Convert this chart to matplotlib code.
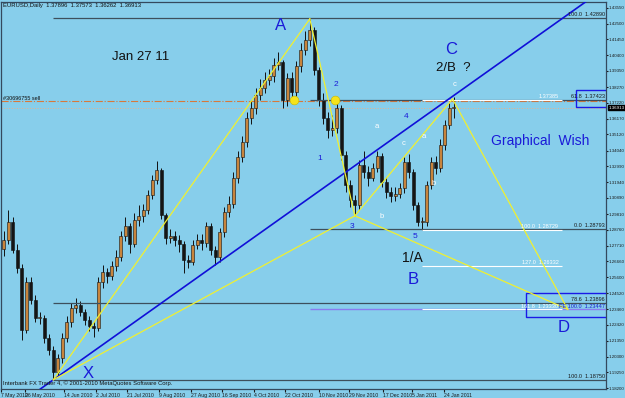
import matplotlib
matplotlib.use('Agg')
import matplotlib.pyplot as plt
import matplotlib.transforms as mtransforms
from matplotlib.patches import Rectangle

plt.rcParams['font.family'] = ['Liberation Sans', 'DejaVu Sans']

# EURUSD daily, one candle per two sessions (7 May 2010 .. 27 Jan 2011)
opens = [1.2750, 1.2808, 1.2928, 1.2741, 1.2621, 1.2207, 1.2527, 1.2407, 1.2287, 1.2287,
         1.2154, 1.2074, 1.1927, 1.2020, 1.2154, 1.2261, 1.2354, 1.2374, 1.2327, 1.2274,
         1.2234, 1.2221, 1.2527, 1.2594, 1.2567, 1.2634, 1.2694, 1.2834, 1.2901, 1.2781,
         1.2941, 1.2968, 1.3008, 1.3108, 1.3208, 1.3274, 1.2974, 1.2821, 1.2834, 1.2808,
         1.2781, 1.2674, 1.2661, 1.2774, 1.2808, 1.2788, 1.2901, 1.2741, 1.2694, 1.2861,
         1.2994, 1.3048, 1.3221, 1.3361, 1.3461, 1.3621, 1.3688, 1.3775, 1.3821, 1.3875,
         1.3901, 1.3975, 1.3995, 1.3741, 1.3888, 1.3795, 1.3968, 1.4075, 1.4142, 1.4208,
         1.3941, 1.3741, 1.3621, 1.3541, 1.3555, 1.3688, 1.3375, 1.3174, 1.3074, 1.3041,
         1.3308, 1.3261, 1.3221, 1.3288, 1.3368, 1.3194, 1.3128, 1.3101, 1.3114, 1.3154,
         1.3328, 1.3261, 1.3041, 1.2928, 1.2928, 1.3174, 1.3328, 1.3288, 1.3441, 1.3575,
         1.3688]
closes = [1.2808, 1.2928, 1.2741, 1.2621, 1.2207, 1.2527, 1.2407, 1.2287, 1.2287, 1.2154,
          1.2074, 1.1927, 1.2020, 1.2154, 1.2261, 1.2354, 1.2374, 1.2327, 1.2274, 1.2234,
          1.2221, 1.2527, 1.2594, 1.2567, 1.2634, 1.2694, 1.2834, 1.2901, 1.2781, 1.2941,
          1.2968, 1.3008, 1.3108, 1.3208, 1.3274, 1.2974, 1.2821, 1.2834, 1.2808, 1.2781,
          1.2674, 1.2661, 1.2774, 1.2808, 1.2788, 1.2901, 1.2741, 1.2694, 1.2861, 1.2994,
          1.3048, 1.3221, 1.3361, 1.3461, 1.3621, 1.3688, 1.3775, 1.3821, 1.3875, 1.3901,
          1.3975, 1.3995, 1.3741, 1.3888, 1.3795, 1.3968, 1.4075, 1.4142, 1.4208, 1.3941,
          1.3741, 1.3621, 1.3541, 1.3555, 1.3688, 1.3375, 1.3174, 1.3074, 1.3041, 1.3308,
          1.3261, 1.3221, 1.3288, 1.3368, 1.3194, 1.3128, 1.3101, 1.3114, 1.3154, 1.3328,
          1.3261, 1.3041, 1.2928, 1.2928, 1.3174, 1.3328, 1.3288, 1.3441, 1.3575, 1.3688,
          1.3691]
highs = [1.2870, 1.3010, 1.2960, 1.2780, 1.2650, 1.2560, 1.2560, 1.2440, 1.2330, 1.2310,
         1.2180, 1.2100, 1.2050, 1.2190, 1.2300, 1.2390, 1.2420, 1.2400, 1.2350, 1.2300,
         1.2270, 1.2560, 1.2640, 1.2620, 1.2670, 1.2740, 1.2870, 1.2960, 1.2920, 1.2990,
         1.3040, 1.3050, 1.3140, 1.3240, 1.3333, 1.3290, 1.2990, 1.2880, 1.2870, 1.2840,
         1.2800, 1.2710, 1.2810, 1.2850, 1.2850, 1.2930, 1.2920, 1.2770, 1.2890, 1.3030,
         1.3100, 1.3260, 1.3400, 1.3500, 1.3660, 1.3740, 1.3820, 1.3880, 1.3930, 1.3950,
         1.4020, 1.4060, 1.4010, 1.3920, 1.3930, 1.4000, 1.4120, 1.4200, 1.4282, 1.4230,
         1.3960, 1.3790, 1.3660, 1.3640, 1.3748, 1.3710, 1.3400, 1.3210, 1.3110, 1.3340,
         1.3400, 1.3300, 1.3320, 1.3400, 1.3390, 1.3230, 1.3160, 1.3160, 1.3190, 1.3360,
         1.3380, 1.3280, 1.3060, 1.2960, 1.3200, 1.3360, 1.3370, 1.3480, 1.3610, 1.3720,
         1.3759]
lows = [1.2700, 1.2780, 1.2720, 1.2590, 1.2141, 1.2190, 1.2380, 1.2260, 1.2250, 1.2120,
        1.2040, 1.1875, 1.1900, 1.1990, 1.2130, 1.2230, 1.2320, 1.2300, 1.2240, 1.2200,
        1.2160, 1.2200, 1.2490, 1.2520, 1.2540, 1.2600, 1.2670, 1.2800, 1.2720, 1.2760,
        1.2900, 1.2930, 1.2980, 1.3080, 1.3180, 1.2950, 1.2780, 1.2790, 1.2770, 1.2730,
        1.2588, 1.2620, 1.2640, 1.2750, 1.2740, 1.2760, 1.2710, 1.2640, 1.2660, 1.2830,
        1.2960, 1.3020, 1.3190, 1.3330, 1.3430, 1.3580, 1.3650, 1.3740, 1.3790, 1.3840,
        1.3860, 1.3940, 1.3688, 1.3700, 1.3741, 1.3770, 1.3930, 1.4040, 1.4100, 1.3910,
        1.3700, 1.3580, 1.3490, 1.3500, 1.3520, 1.3340, 1.3130, 1.3030, 1.2969, 1.3010,
        1.3220, 1.3170, 1.3200, 1.3260, 1.3160, 1.3090, 1.3060, 1.3070, 1.3090, 1.3120,
        1.3220, 1.3010, 1.2900, 1.2872, 1.2900, 1.3150, 1.3250, 1.3260, 1.3410, 1.3550,
        1.3620]

price_ticks = [1.43550, 1.42500, 1.41450, 1.40400, 1.39350, 1.38270, 1.37220, 1.36170,
               1.35120, 1.34040, 1.32990, 1.31940, 1.30890, 1.29810, 1.28760, 1.27710,
               1.26660, 1.25600, 1.24520, 1.23460, 1.22420, 1.21350, 1.20300, 1.19250,
               1.18200]
date_labels = ['7 May 2010', '26 May 2010', '14 Jun 2010', '2 Jul 2010', '21 Jul 2010',
               '9 Aug 2010', '27 Aug 2010', '16 Sep 2010', '4 Oct 2010', '22 Oct 2010',
               '10 Nov 2010', '29 Nov 2010', '17 Dec 2010', '5 Jan 2011', '24 Jan 2011']
date_pos = [-0.6, 4.8, 13.3, 20.4, 27.5, 34.4, 41.5, 48.6, 55.5, 62.6, 70.0, 76.6, 84.2, 90.8, 97.8]

# harmonic pattern pivots (bar, price)
pivot_X = (11, 1.1875)
pivot_A = (68, 1.4282)
pivot_B = (78, 1.2969)
pivot_C = (99.7, 1.3748)
pivot_D = (125.3, 1.2345)
trend_pt = (70.4, 1.3141)

current = 1.36913
sell_price = 1.3735

# horizontal fibo levels: price, start bar, label
gray_levels = [(1.4289, 11, '100.0  1.42890'), (1.3742, 68, '61.8  1.37423'),
               (1.2879, 68, '0.0  1.28793'), (1.2390, 11, '78.6  1.23896'),
               (1.1875, 11, '100.0  1.18750')]
white_levels = [(1.3740, '1.37385'), (1.2873, '100.0  1.28729'),
                (1.2633, '127.0  1.26332'), (1.2345, '161.8  1.23330')]

BG = '#87ceeb'
W, H = 625, 398
fig = plt.figure(figsize=(W / 100, H / 100), dpi=100)
fig.patch.set_facecolor(BG)
ax = fig.add_axes([1 / W, 9 / H, 605 / W, 387 / H])
ax.set_facecolor(BG)
ax.set_xlim(-0.6, 133.8)
ax.set_ylim(1.1814, 1.4395)
for s in ax.spines.values():
    s.set_color('#34495e')
    s.set_linewidth(0.9)

# candles
for i in range(len(closes)):
    o, h, l, c = opens[i], highs[i], lows[i], closes[i]
    ax.vlines(i, l, h, color='#111111', lw=0.7, zorder=2)
    up = c >= o
    ax.bar(i, max(abs(c - o), 0.0005), bottom=min(o, c), width=0.62,
           color='#c8843c' if up else '#151515', edgecolor='#111111', lw=0.4, zorder=2)

# horizontal lines
ax.axhline(sell_price, color='#d8783a', lw=0.8, ls='-.', zorder=1)
ax.axhline(current, color='#e8b08a', lw=0.7, ls=':', zorder=1)
x_right = ax.get_xlim()[1]
for p, x0, txt in gray_levels:
    ax.hlines(p, x0, x_right, color='#3d4f5c', lw=0.9, zorder=3)
    ax.text(133.6, p + 0.0006, txt, fontsize=4.0, ha='right', va='bottom', color='#1a1a1a', zorder=5)
ax.hlines(pivot_D[1], pivot_A[0], x_right, color='#8a7cf0', lw=1.0, zorder=3)
ax.text(133.6, pivot_D[1] + 0.0004, 'FE 100.0  1.23447', fontsize=4.0, ha='right', va='bottom',
        color='#1b1bd0', zorder=5)
for p, txt in white_levels:
    ax.hlines(p, 93, 124, color='white', lw=0.8, zorder=3)
    ax.text(123.2, p + 0.0005, txt, fontsize=4.0, ha='right', va='bottom', color='white', zorder=5)

# blue boxes
ax.add_patch(Rectangle((127.1, 1.3698), 7, 0.0111, fill=False, ec='#1a1ae6', lw=1.0, zorder=4))
ax.add_patch(Rectangle((116.0, 1.2294), 18, 0.0160, fill=False, ec='#1a1ae6', lw=1.0, zorder=4))

# trend line
ax.axline(pivot_X, trend_pt, color='#1010d8', lw=1.2, zorder=3)

# XABCD pattern
yel = '#f0f030'
for p1, p2 in [(pivot_X, pivot_A), (pivot_A, pivot_B), (pivot_X, pivot_B), (pivot_B, pivot_C),
               (pivot_B, pivot_D), (pivot_C, pivot_D)]:
    ax.plot([p1[0], p2[0]], [p1[1], p2[1]], color=yel, lw=0.9, zorder=4)

# yellow marks
ax.scatter([64.5, 73.5], [1.3741, 1.3741], s=40, color='#f5e31a', zorder=5, marker='o',
           edgecolors='#c8b400', linewidths=0.4)

# right price scale
ax.yaxis.tick_right()
ax.set_yticks(price_ticks)
ax.set_yticklabels(['%.5f' % v for v in price_ticks])
ax.tick_params(axis='y', labelsize=3.2, length=1.5, pad=0.3, colors='#1a1a1a')
ax.set_xticks(date_pos)
ax.set_xticklabels(date_labels, ha='left')
ax.tick_params(axis='x', labelsize=3.7, length=2, pad=1, colors='#1a1a1a')

# current price tag
tr = mtransforms.blended_transform_factory(ax.transAxes, ax.transData)
ax.text(1.004, current, '1.36913', transform=tr, fontsize=3.2, color='white', va='center',
        ha='left', bbox=dict(boxstyle='square,pad=0.1', fc='black', ec='black'), clip_on=False)

def ftxt(xp, yp, s, **kw):
    fig.text(xp / W, 1 - yp / H, s, **kw)

ftxt(3, 6, 'EURUSD,Daily  1.37896  1.37573  1.36262  1.36913', fontsize=4.2, va='center', color='#111111')
ftxt(3, 383, 'Interbank FX Trader 4, \u00a9 2001-2010 MetaQuotes Software Corp.', fontsize=4.2,
     va='center', color='#111111')
ftxt(3, 98, '#30696755 sell', fontsize=4.0, va='center', color='#111111')

big = dict(va='center', ha='center')
ftxt(281, 26, 'A', fontsize=12, color='#1a1ad8', **big)
ftxt(88, 373, 'X', fontsize=12, color='#1a1ad8', **big)
ftxt(451, 49, 'C', fontsize=12, color='#1a1ad8', **big)
ftxt(413, 280, 'B', fontsize=12, color='#1a1ad8', **big)
ftxt(564, 328, 'D', fontsize=12, color='#1a1ad8', **big)
ftxt(540, 141, 'Graphical  Wish', fontsize=10, color='#1a1ad8', **big)
ftxt(141, 57, 'Jan 27 11', fontsize=9.5, color='#111111', **big)
ftxt(453, 68, '2/B  ?', fontsize=9.5, color='#111111', **big)
ftxt(412, 258, '1/A', fontsize=10, color='#111111', **big)

for xp, yp, s in [(320, 158, '1'), (336, 85, '2'), (352, 226, '3'), (406, 117, '4'), (415, 237, '5')]:
    ftxt(xp, yp, s, fontsize=6, color='#1a1ad8', **big)
for xp, yp, s in [(377, 127, 'a'), (382, 216, 'b'), (404, 143, 'c'), (424, 137, 'a'),
                  (434, 183, 'b'), (455, 85, 'c')]:
    ftxt(xp, yp, s, fontsize=5.5, color='white', **big)

fig.savefig('out.png', dpi=100, facecolor=BG)
